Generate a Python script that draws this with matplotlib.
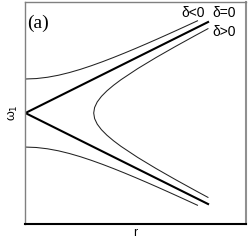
import matplotlib
matplotlib.use("Agg")
import matplotlib.pyplot as plt

# delta = 0 : straight lines from the origin
r_zero = [0.0, 8.28]
w_zero_upper = [0.0, 4.10]
w_zero_lower = [0.0, -4.10]

# delta < 0 : outer branches
r_neg = [0.0, 0.5, 1.0, 1.5, 2.0, 2.5, 3.0, 3.5, 4.0, 4.5, 5.0, 5.5, 6.0, 6.5, 7.0, 7.5, 7.8]
w_neg_upper = [1.533, 1.553, 1.611, 1.703, 1.825, 1.970, 2.135, 2.314, 2.505, 2.705,
               2.912, 3.125, 3.343, 3.565, 3.790, 4.018, 4.155]
w_neg_lower = [-v for v in w_neg_upper]

# delta > 0 : inner hyperbola opening to the right
w_pos = [-3.8, -3.5, -3.0, -2.5, -2.0, -1.5, -1.25, -1.0, -0.75, -0.5, -0.25, 0.0,
         0.25, 0.5, 0.75, 1.0, 1.25, 1.5, 2.0, 2.5, 3.0, 3.5, 3.8]
r_pos = [8.275, 7.716, 6.804, 5.922, 5.089, 4.331, 3.995, 3.696, 3.446, 3.256, 3.137, 3.096,
         3.137, 3.256, 3.446, 3.696, 3.995, 4.331, 5.089, 5.922, 6.804, 7.716, 8.275]

labels = ["δ<0", "δ=0", "δ>0"]

fig = plt.figure(figsize=(2.49, 2.41), dpi=100)
ax = fig.add_axes([0.102, 0.0705, 0.886, 0.921])

thin = dict(color="#222222", lw=0.75)
ax.plot(r_neg, w_neg_upper, **thin)
ax.plot(r_neg, w_neg_lower, **thin)
ax.plot(r_pos, w_pos, **thin)
ax.plot(r_zero, w_zero_upper, color="black", lw=1.5)
ax.plot(r_zero, w_zero_lower, color="black", lw=1.5)

ax.set_xlim(0, 10)
ax.set_ylim(-5, 5)
ax.set_xticks([])
ax.set_yticks([])

for side in ["left", "top"]:
    ax.spines[side].set_color("#808080")
    ax.spines[side].set_linewidth(1.0)
ax.spines["right"].set_color("#909090")
ax.spines["right"].set_linewidth(1.5)
ax.spines["bottom"].set_color("black")
ax.spines["bottom"].set_linewidth(1.5)

sans = "Liberation Sans"
ax.text(8.12, 4.50, labels[0], ha="right", va="center", fontsize=10, family=sans)
ax.text(8.46, 4.50, labels[1], ha="left", va="center", fontsize=10, family=sans)
ax.text(8.46, 3.63, labels[2], ha="left", va="center", fontsize=10, family=sans)

ax.text(0.08, 4.05, "(a)", ha="left", va="center", fontsize=14, family="Liberation Serif")

ax.set_xlabel("r", fontsize=9, family=sans, labelpad=2)
ax.set_ylabel("ω$_1$", fontsize=9, family=sans, labelpad=4)

fig.savefig("out.png", dpi=100)
